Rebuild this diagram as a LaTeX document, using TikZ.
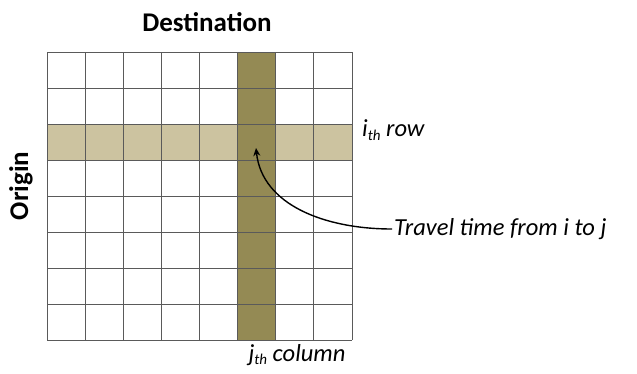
\documentclass[tikz,border=0pt]{standalone}
\usepackage{fontspec}
\setmainfont{Carlito}
\usetikzlibrary{arrows.meta}
\definecolor{colfill}{HTML}{948A54}
\definecolor{rowfill}{HTML}{CCC3A0}
\definecolor{gridc}{HTML}{5A5A5A}
\tikzset{
  gridline/.style={draw=gridc, line width=0.8pt},
  lbl/.style={font=\fontsize{24.5}{28}\selectfont\itshape, inner sep=0pt},
  ttl/.style={font=\fontsize{27}{32}\selectfont\bfseries, inner sep=0pt},
}
\newcommand{\thsub}{\raisebox{-0.15em}{\fontsize{15}{16}\selectfont th}}
\begin{document}
\begin{tikzpicture}[x=1pt,y=-1pt]
\useasboundingbox (0,0) rectangle (637,373);
% highlighted row and column
\fill[rowfill] (47,124) rectangle (352,160);
\fill[colfill] (238,52) rectangle (276,340);
% grid
\foreach \i in {0,...,8} {
  \draw[gridline] ({47+\i*38.125},52) -- ({47+\i*38.125},340);
  \draw[gridline] (47,{52+\i*36}) -- (352,{52+\i*36});
}
\node[ttl] (dest) at (207,22) {Destination};
\node[ttl, rotate=90] (orig) at (21,186) {Origin};
\node[lbl, anchor=west] (row) at (362,130) {i\thsub{} row};
\node[lbl, anchor=north] (col) at (297,344) {j\thsub{} column};
\node[lbl, anchor=west] (tt) at (394,229) {Travel time from i to j};
\coordinate (cell) at (256,148);
\draw[line width=1.4pt, -{Stealth[length=8pt,width=7pt]}] ([xshift=-2pt]tt.west) .. controls (325,229) and (262,205) .. (cell);
\end{tikzpicture}
\end{document}
